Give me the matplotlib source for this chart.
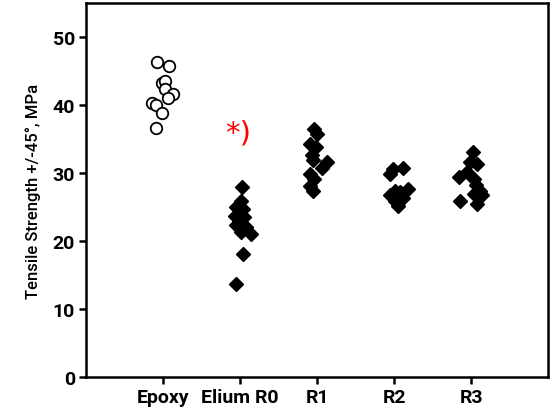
import matplotlib.pyplot as plt
import numpy as np

plt.rcParams['font.family'] = ['Roboto', 'DejaVu Sans']

# Tensile strength (+/-45 deg) per resin system, MPa
categories = ['Epoxy', 'Elium R0', 'R1', 'R2', 'R3']

epoxy = [46.4, 45.8, 43.3, 43.6, 42.4, 41.6, 41.1, 40.3, 40.0, 38.9, 36.6]
epoxy_jit = [-0.08, 0.08, -0.01, 0.03, 0.03, 0.13, 0.06, -0.14, -0.09, -0.01, -0.09]

elium_r0 = [27.9, 25.9, 25.0, 24.7, 23.7, 23.5, 23.0, 22.3, 22.0, 21.0, 21.3, 18.1, 13.7]
elium_r0_jit = [0.02, 0.01, -0.05, 0.035, -0.07, 0.055, -0.01, -0.05, 0.08, 0.14, 0.01, 0.035, -0.05]

r1 = [36.5, 35.7, 34.3, 33.8, 32.6, 31.6, 31.9, 30.8, 29.9, 29.1, 28.1, 27.4]
r1_jit = [-0.045, 0.0, -0.09, -0.02, -0.065, 0.13, -0.05, 0.065, -0.09, -0.045, -0.09, -0.05]

r2 = [30.6, 30.8, 29.9, 27.4, 27.6, 26.7, 27.2, 25.9, 26.4, 25.2]
r2_jit = [-0.01, 0.12, -0.05, 0.013, 0.185, -0.05, 0.08, 0.013, 0.12, 0.055]

r3 = [33.1, 31.6, 31.3, 29.4, 30.1, 29.1, 28.2, 27.4, 26.9, 25.9, 25.4, 26.7]
r3_jit = [0.026, -0.01, 0.078, -0.16, -0.05, 0.034, 0.056, 0.12, 0.034, -0.14, 0.078, 0.136]

fig = plt.figure(figsize=(5.51, 4.10), dpi=100)
ax = fig.add_axes([0.156, 0.078, 0.839, 0.912])

# epoxy as open circles, the rest as filled diamonds
ax.plot(1 + np.array(epoxy_jit), epoxy, 'o', ms=8.3, mfc='white', mec='black', mew=1.3)
groups = [(elium_r0, elium_r0_jit), (r1, r1_jit), (r2, r2_jit), (r3, r3_jit)]
for i, (vals, jit) in enumerate(groups):
    ax.plot(i + 2 + np.array(jit), vals, 'D', ms=7, color='black', mec='black')

# significance marker above Elium R0
ax.text(1.97, 36.0, '*)', color='red', fontsize=21, ha='center', va='center',
        family='DejaVu Sans')

ax.set_xlim(0, 6)
ax.set_ylim(0, 55)
ax.set_xticks(range(1, 6))
ax.set_xticklabels(categories, fontsize=14, fontweight='bold')
ax.set_yticks(range(0, 51, 10))
ax.set_yticklabels([str(v) for v in range(0, 51, 10)], fontsize=14, fontweight='bold')
ax.set_ylabel('Tensile Strength +/-45°, MPa', fontsize=12, fontweight='medium',
              labelpad=8)

for sp in ax.spines.values():
    sp.set_linewidth(1.8)
ax.tick_params(direction='out', length=5, width=1.8, pad=3)

plt.savefig('out.png', dpi=100)
